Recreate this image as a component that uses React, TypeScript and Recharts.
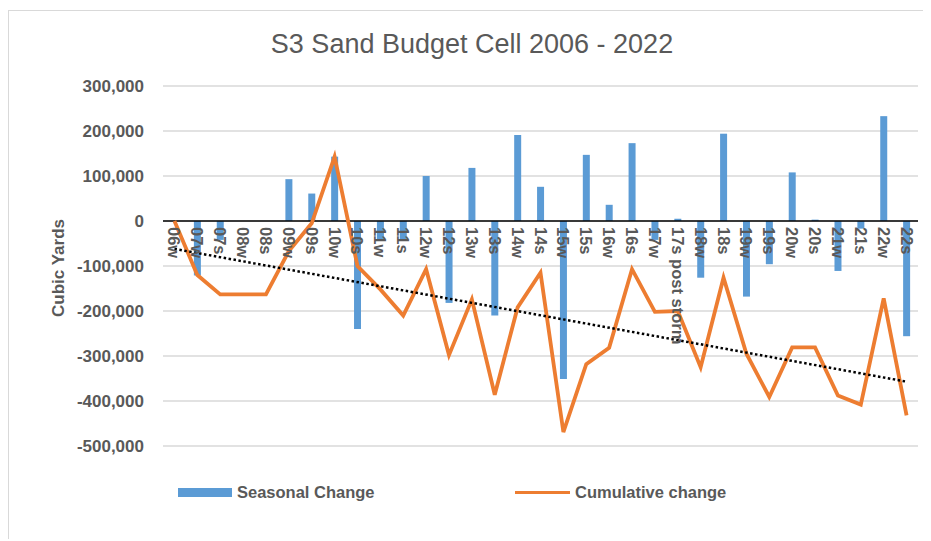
import React from 'react';
import {
  ComposedChart,
  Bar,
  Line,
  XAxis,
  YAxis,
  CartesianGrid,
  ReferenceLine,
  Legend,
  Label,
} from 'recharts';

const categories = [
  '06w', '07w', '07s', '08w', '08s', '09w', '09s', '10w', '10s', '11w', '11s',
  '12w', '12s', '13w', '13s', '14w', '14s', '15w', '15s', '16w', '16s', '17w',
  '17s post storm', '18w', '18s', '19w', '19s', '20w', '20s', '21w', '21s', '22w', '22s',
];

const seasonalChange = [
  0, -121000, -42000, 0, 0, 93000, 61000, 143000, -240000, -40000, -40000,
  100000, -182000, 118000, -210000, 191000, 76000, -351000, 147000, 36000, 173000, -42000,
  5000, -126000, 194000, -168000, -96000, 108000, 3000, -111000, -17000, 233000, -256000,
];

const cumulativeChange = [
  0, -120000, -163000, -163000, -163000, -67000, -5000, 143000, -100000, -152000, -210000,
  -107000, -298000, -174000, -386000, -192000, -115000, -469000, -318000, -282000, -107000, -202000,
  -200000, -325000, -126000, -295000, -391000, -281000, -281000, -388000, -408000, -172000, -432000,
];

// linear trend of cumulative change: only its two end values
const trendStart = -62000;
const trendEnd = -357000;

const yTicks = [300000, 200000, 100000, 0, -100000, -200000, -300000, -400000, -500000];
const yDomain: [number, number] = [-500000, 300000];

const data = categories.map((c, i) => ({
  cat: c,
  seasonal: seasonalChange[i],
  cumulative: cumulativeChange[i],
  trend: i === 0 ? trendStart : i === categories.length - 1 ? trendEnd : null,
}));

const TEXT = '#595959';
const BLUE = '#5b9bd5';
const ORANGE = '#ed7d31';
const FONT = '"Liberation Sans", Arial, sans-serif';

const W = 922;
const H = 530;
const MARGIN = { top: 75, right: 13, left: 0, bottom: 65 };
const X_AXIS_H = 30;
const PLOT_H = H - MARGIN.top - MARGIN.bottom - X_AXIS_H;

const fmt = (v: number) => (v === 0 ? '0' : v.toLocaleString('en-US'));

const XTick = (props: any) => {
  const { x, y, payload } = props;
  // labels sit just below the zero line
  const zeroY = y - (PLOT_H * (0 - yDomain[0])) / (yDomain[1] - yDomain[0]);
  const ty = zeroY + 6;
  return (
    <text
      x={x}
      y={ty}
      transform={`rotate(90, ${x}, ${ty})`}
      textAnchor="start"
      dominantBaseline="central"
      fill={TEXT}
      fontFamily={FONT}
      fontWeight="bold"
      fontSize={16.5}
    >
      {payload.value}
    </text>
  );
};

const LegendContent = () => (
  <div style={{ position: 'relative', height: 20, fontFamily: FONT, fontWeight: 'bold', fontSize: 16.5, color: TEXT }}>
    <div style={{ position: 'absolute', left: 0, top: 0, display: 'flex', alignItems: 'center', height: 20, whiteSpace: 'nowrap' }}>
      <div style={{ width: 54, height: 9, background: BLUE, marginRight: 5 }} />
      <span>Seasonal Change</span>
    </div>
    <div style={{ position: 'absolute', left: 337, top: 0, display: 'flex', alignItems: 'center', height: 20, whiteSpace: 'nowrap' }}>
      <div style={{ width: 55, height: 3, background: ORANGE, marginRight: 5 }} />
      <span>Cumulative change</span>
    </div>
  </div>
);

export default function App() {
  return (
    <div
      style={{
        position: 'relative',
        top: 2,
        width: W,
        height: H,
        borderTop: '1px solid #d9d9d9',
        borderLeft: '1px solid #d9d9d9',
        background: '#fff',
      }}
    >
      <div
        style={{
          position: 'absolute',
          left: 6,
          top: 18,
          width: W - 8,
          textAlign: 'center',
          fontFamily: FONT,
          fontSize: 27,
          color: TEXT,
          zIndex: 2,
        }}
      >
        S3 Sand Budget Cell 2006 - 2022
      </div>
      <ComposedChart width={W} height={H} data={data} margin={MARGIN} barCategoryGap={0}>
        <CartesianGrid horizontal vertical={false} stroke="#d9d9d9" strokeWidth={1.5} />
        <XAxis
          dataKey="cat"
          height={X_AXIS_H}
          axisLine={false}
          tickLine={false}
          tickSize={0}
          tickMargin={0}
          interval={0}
          tick={<XTick />}
        />
        <YAxis
          width={154}
          domain={yDomain}
          ticks={yTicks}
          tickFormatter={fmt}
          axisLine={false}
          tickLine={false}
          tickSize={0}
          tickMargin={19}
          interval={0}
          tick={{ fill: TEXT, fontFamily: FONT, fontWeight: 'bold', fontSize: 17 }}
        >
          <Label
            content={(p: any) => {
              const vb = p.viewBox;
              const cx = vb.x + 49;
              const cy = vb.y + vb.height / 2 + 2;
              return (
                <text
                  x={cx}
                  y={cy}
                  transform={`rotate(-90, ${cx}, ${cy})`}
                  textAnchor="middle"
                  dominantBaseline="central"
                  fill={TEXT}
                  fontFamily={FONT}
                  fontWeight="bold"
                  fontSize={17}
                >
                  Cubic Yards
                </text>
              );
            }}
          />
        </YAxis>
        <ReferenceLine y={0} stroke="#000" strokeWidth={1.5} />
        <Bar dataKey="seasonal" name="Seasonal Change" fill={BLUE} barSize={7} isAnimationActive={false} />
        <Line
          dataKey="cumulative"
          name="Cumulative change"
          stroke={ORANGE}
          strokeWidth={3.8}
          dot={false}
          activeDot={false}
          isAnimationActive={false}
          strokeLinejoin="miter"
        />
        <Line
          dataKey="trend"
          stroke="#000"
          strokeWidth={2.5}
          strokeDasharray="2.5 2.5"
          dot={false}
          activeDot={false}
          connectNulls
          isAnimationActive={false}
          legendType="none"
        />
        <Legend
          layout="horizontal"
          verticalAlign="middle"
          align="center"
          content={<LegendContent />}
          wrapperStyle={{ top: 471, left: 169, width: 600 }}
        />
      </ComposedChart>
    </div>
  );
}
